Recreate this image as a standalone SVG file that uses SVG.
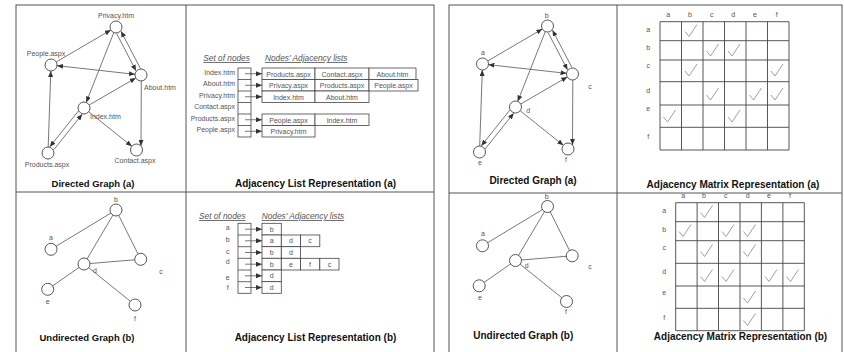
<svg xmlns="http://www.w3.org/2000/svg" xmlns:xlink="http://www.w3.org/1999/xlink" width="844" height="352" viewBox="0 0 844 352">
  <style>
    .frame { fill: none; stroke: #555; stroke-width: 1; }
    .edge { fill: none; stroke: #555; stroke-width: 0.8; }
    .arr { marker-end: url(#ah); }
    .both { marker-start: url(#ah); marker-end: url(#ah); }
    .node { fill: #fff; stroke: #444; stroke-width: 0.9; }
    .lbl { font-family: "Liberation Sans", Arial, sans-serif; font-size: 7px; fill: #555; }
    .mid { text-anchor: middle; }
    .end { text-anchor: end; }
    .ttl { font-family: "Liberation Sans", Arial, sans-serif; font-size: 9.5px; font-weight: bold; fill: #111; text-anchor: middle; }
    .big { font-size: 10px; }
    .hdr { font-family: "Liberation Sans", Arial, sans-serif; font-size: 8.3px; font-style: italic; fill: #555; text-decoration: underline; }
    .cell { fill: #fff; stroke: #444; stroke-width: 0.8; }
    .grid { fill: none; stroke: #444; stroke-width: 0.9; }
    .chk { fill: none; stroke: #888; stroke-width: 0.8; }
  </style>
  <defs>
    <marker id="ah" markerUnits="userSpaceOnUse" markerWidth="6" markerHeight="5" refX="6" refY="2.5" orient="auto-start-reverse">
      <path d="M0,0 L6,2.5 L0,5 z" fill="#333"/>
    </marker>
    <path id="chk" class="chk" d="M0,7 L4,12 L12,0"/>
  </defs>

  <rect width="844" height="352" fill="#fff"/>

  <!-- panel frames -->
  <g id="frames">
    <rect class="frame" x="16" y="5" width="418" height="360"/>
    <line class="frame" x1="186" y1="5" x2="186" y2="352"/>
    <line class="frame" x1="16" y1="192" x2="434" y2="192"/>
    <rect class="frame" x="449" y="5" width="393" height="360"/>
    <line class="frame" x1="617" y1="5" x2="617" y2="352"/>
    <line class="frame" x1="449" y1="193" x2="842" y2="193"/>
  </g>

  <!-- directed web-page graph -->
  <g id="connectors-directed-pages">
    <path class="edge arr" d="M56.18,61.97 L110.82,30.03"/>
    <path class="edge both" d="M56.96,65.66 L135.04,74.34"/>
    <path class="edge arr" d="M116.55,33.47 L136.01,70.83"/>
    <path class="edge arr" d="M140.45,68.53 L120.99,31.17"/>
    <path class="edge arr" d="M113.8,32.58 L86.2,102.42"/>
    <path class="edge arr" d="M89.19,104.99 L135.81,78.01"/>
    <path class="edge arr" d="M141.3,81 L141,146"/>
    <path class="edge arr" d="M88.69,111.75 L131.81,146.25"/>
    <path class="edge arr" d="M48.2,147 L50.8,71"/>
    <path class="edge arr" d="M78.3,111.13 L49.8,146.75"/>
    <path class="edge arr" d="M53.7,149.87 L82.2,114.25"/>
  </g>
  <g id="node-privacy"><circle class="node" cx="116" cy="27" r="6"/><text class="lbl mid" x="116" y="18">Privacy.htm</text></g>
  <g id="node-people"><circle class="node" cx="51" cy="65" r="6"/><text class="lbl mid" x="46" y="55.5">People.aspx</text></g>
  <g id="node-about"><circle class="node" cx="141" cy="75" r="6"/><text class="lbl" x="144" y="89.5">About.htm</text></g>
  <g id="node-index"><circle class="node" cx="84" cy="108" r="6"/><text class="lbl" x="90" y="118.5">Index.htm</text></g>
  <g id="node-products"><circle class="node" cx="48" cy="153" r="6"/><text class="lbl mid" x="47" y="166.5">Products.aspx</text></g>
  <g id="node-contact"><circle class="node" cx="136.5" cy="150" r="6"/><text class="lbl mid" x="135" y="163">Contact.aspx</text></g>
  <text class="ttl" x="93" y="186.5">Directed Graph (a)</text>

  <!-- adjacency list (a) -->
  <g id="list-a">
    <text class="hdr" x="203.3" y="61">Set of nodes</text>
    <text class="hdr" x="265" y="61">Nodes' Adjacency lists</text>
    <rect class="cell" x="238" y="68" width="13" height="69"/>
    <line class="cell" x1="238" y1="79.5" x2="251" y2="79.5"/>
    <line class="cell" x1="238" y1="91" x2="251" y2="91"/>
    <line class="cell" x1="238" y1="102.5" x2="251" y2="102.5"/>
    <line class="cell" x1="238" y1="114" x2="251" y2="114"/>
    <line class="cell" x1="238" y1="125.5" x2="251" y2="125.5"/>
    <text class="lbl end" x="235" y="74.7">Index.htm</text>
    <text class="lbl end" x="235" y="86.2">About.htm</text>
    <text class="lbl end" x="235" y="97.7">Privacy.htm</text>
    <text class="lbl end" x="235" y="109.2">Contact.aspx</text>
    <text class="lbl end" x="235" y="120.7">Products.aspx</text>
    <text class="lbl end" x="235" y="132.2">People.aspx</text>
    <path class="edge arr" d="M245,73.75 H262"/>
    <path class="edge arr" d="M245,85.25 H262"/>
    <path class="edge arr" d="M245,96.75 H262"/>
    <path class="edge arr" d="M245,119.75 H262"/>
    <path class="edge arr" d="M245,131.25 H262"/>
    <rect class="cell" x="262" y="68" width="53" height="11.5"/>
    <rect class="cell" x="315" y="68" width="54" height="11.5"/>
    <rect class="cell" x="369" y="68" width="47" height="11.5"/>
    <rect class="cell" x="262" y="79.5" width="53" height="11.5"/>
    <rect class="cell" x="315" y="79.5" width="54" height="11.5"/>
    <rect class="cell" x="369" y="79.5" width="49" height="11.5"/>
    <rect class="cell" x="262" y="91" width="53" height="11.5"/>
    <rect class="cell" x="315" y="91" width="54" height="11.5"/>
    <rect class="cell" x="262" y="114" width="53" height="11.5"/>
    <rect class="cell" x="315" y="114" width="54" height="11.5"/>
    <rect class="cell" x="262" y="125.5" width="53" height="11.5"/>
    <text class="lbl mid" x="288.5" y="76.5">Products.aspx</text>
    <text class="lbl mid" x="342" y="76.5">Contact.aspx</text>
    <text class="lbl mid" x="392.5" y="76.5">About.htm</text>
    <text class="lbl mid" x="288.5" y="88">Privacy.aspx</text>
    <text class="lbl mid" x="342" y="88">Products.aspx</text>
    <text class="lbl mid" x="393.5" y="88">People.aspx</text>
    <text class="lbl mid" x="288.5" y="99.5">Index.htm</text>
    <text class="lbl mid" x="342" y="99.5">About.htm</text>
    <text class="lbl mid" x="288.5" y="122.5">People.aspx</text>
    <text class="lbl mid" x="342" y="122.5">Index.htm</text>
    <text class="lbl mid" x="288.5" y="134">Privacy.htm</text>
  </g>
  <text class="ttl big" x="315.5" y="186.5">Adjacency List Representation (a)</text>

  <!-- undirected graph (left) -->
  <g id="connectors-undirected-left">
    <line class="edge" x1="51" y1="249.3" x2="116" y2="210"/>
    <line class="edge" x1="116" y1="210" x2="84" y2="264"/>
    <line class="edge" x1="116" y1="210" x2="140.7" y2="259.3"/>
    <line class="edge" x1="84" y1="264" x2="140.7" y2="259.3"/>
    <line class="edge" x1="84" y1="264" x2="47.7" y2="289.3"/>
    <line class="edge" x1="84" y1="264" x2="135" y2="305"/>
  </g>
  <g id="ub-b"><circle class="node" cx="116" cy="210" r="6"/><text class="lbl mid" x="116" y="202">b</text></g>
  <g id="ub-a"><circle class="node" cx="51" cy="249.3" r="6"/><text class="lbl mid" x="51" y="240">a</text></g>
  <g id="ub-c"><circle class="node" cx="140.7" cy="259.3" r="6"/><text class="lbl mid" x="161" y="273.5">c</text></g>
  <g id="ub-d"><circle class="node" cx="84" cy="264" r="6"/><text class="lbl mid" x="95" y="272.5">d</text></g>
  <g id="ub-e"><circle class="node" cx="47.7" cy="289.3" r="6"/><text class="lbl mid" x="47.7" y="303.5">e</text></g>
  <g id="ub-f"><circle class="node" cx="135" cy="305" r="6"/><text class="lbl mid" x="135" y="320.5">f</text></g>
  <text class="ttl" x="87" y="341">Undirected Graph (b)</text>

  <!-- adjacency list (b) -->
  <g id="list-b">
    <text class="hdr" x="199" y="219">Set of nodes</text>
    <text class="hdr" x="261.7" y="219">Nodes' Adjacency lists</text>
    <rect class="cell" x="238" y="223.3" width="13" height="70"/>
    <line class="cell" x1="238" y1="235" x2="251" y2="235"/>
    <line class="cell" x1="238" y1="246.7" x2="251" y2="246.7"/>
    <line class="cell" x1="238" y1="258.3" x2="251" y2="258.3"/>
    <line class="cell" x1="238" y1="270" x2="251" y2="270"/>
    <line class="cell" x1="238" y1="281.7" x2="251" y2="281.7"/>
    <text class="lbl mid" x="227.7" y="230.2">a</text>
    <text class="lbl mid" x="227.7" y="241.8">b</text>
    <text class="lbl mid" x="227.7" y="253.5">c</text>
    <text class="lbl mid" x="227.7" y="264">d</text>
    <text class="lbl mid" x="227.7" y="280.2">e</text>
    <text class="lbl mid" x="227.7" y="290.2">f</text>
    <path class="edge arr" d="M245,229.2 H262"/>
    <path class="edge arr" d="M245,240.8 H262"/>
    <path class="edge arr" d="M245,252.5 H262"/>
    <path class="edge arr" d="M245,264.2 H262"/>
    <path class="edge arr" d="M245,275.8 H262"/>
    <path class="edge arr" d="M245,287.5 H262"/>
    <rect class="cell" x="262" y="223.3" width="19.3" height="11.7"/>
    <rect class="cell" x="262" y="235" width="19.3" height="11.7"/>
    <rect class="cell" x="281.3" y="235" width="19.2" height="11.7"/>
    <rect class="cell" x="300.5" y="235" width="19.3" height="11.7"/>
    <rect class="cell" x="262" y="246.7" width="19.3" height="11.6"/>
    <rect class="cell" x="281.3" y="246.7" width="19.2" height="11.6"/>
    <rect class="cell" x="262" y="258.3" width="19.3" height="11.7"/>
    <rect class="cell" x="281.3" y="258.3" width="19.2" height="11.7"/>
    <rect class="cell" x="300.5" y="258.3" width="19.3" height="11.7"/>
    <rect class="cell" x="319.8" y="258.3" width="19.2" height="11.7"/>
    <rect class="cell" x="262" y="270" width="19.3" height="11.7"/>
    <rect class="cell" x="262" y="281.7" width="19.3" height="11.6"/>
    <text class="lbl mid" x="271.6" y="231.7">b</text>
    <text class="lbl mid" x="271.6" y="243.3">a</text>
    <text class="lbl mid" x="290.9" y="243.3">d</text>
    <text class="lbl mid" x="310.1" y="243.3">c</text>
    <text class="lbl mid" x="271.6" y="255">b</text>
    <text class="lbl mid" x="290.9" y="255">d</text>
    <text class="lbl mid" x="271.6" y="266.7">b</text>
    <text class="lbl mid" x="290.9" y="266.7">e</text>
    <text class="lbl mid" x="310.1" y="266.7">f</text>
    <text class="lbl mid" x="329.4" y="266.7">c</text>
    <text class="lbl mid" x="271.6" y="278.3">d</text>
    <text class="lbl mid" x="271.6" y="290">d</text>
  </g>
  <text class="ttl big" x="315.5" y="341">Adjacency List Representation (b)</text>

  <!-- directed letter graph (right), same geometry as the page graph -->
  <g transform="translate(431.5,-1)">
    <g id="connectors-directed-letters">
      <path class="edge arr" d="M56.18,61.97 L110.82,30.03"/>
      <path class="edge both" d="M56.96,65.66 L135.04,74.34"/>
      <path class="edge arr" d="M116.55,33.47 L136.01,70.83"/>
      <path class="edge arr" d="M140.45,68.53 L120.99,31.17"/>
      <path class="edge arr" d="M113.8,32.58 L86.2,102.42"/>
      <path class="edge arr" d="M89.19,104.99 L135.81,78.01"/>
      <path class="edge arr" d="M141.3,81 L141,146"/>
      <path class="edge arr" d="M88.69,111.75 L131.81,146.25"/>
      <path class="edge arr" d="M48.2,147 L50.8,71"/>
      <path class="edge arr" d="M78.3,111.13 L49.8,146.75"/>
      <path class="edge arr" d="M53.7,149.87 L82.2,114.25"/>
    </g>
    <g id="db-b"><circle class="node" cx="116" cy="27" r="6"/><text class="lbl mid" x="115.2" y="18.5">b</text></g>
    <g id="db-a"><circle class="node" cx="51" cy="65" r="6"/><text class="lbl mid" x="51.5" y="56">a</text></g>
    <g id="db-c"><circle class="node" cx="141" cy="75" r="6"/><text class="lbl mid" x="158.5" y="89.5">c</text></g>
    <g id="db-d"><circle class="node" cx="84" cy="108" r="6"/><text class="lbl mid" x="96.8" y="113.5">d</text></g>
    <g id="db-e"><circle class="node" cx="48" cy="153" r="6"/><text class="lbl mid" x="48.5" y="166">e</text></g>
    <g id="db-f"><circle class="node" cx="136.5" cy="150" r="6"/><text class="lbl mid" x="134.5" y="163">f</text></g>
  </g>
  <text class="ttl big" x="533" y="184">Directed Graph (a)</text>

  <!-- adjacency matrix (a) -->
  <g id="matrix-a">
    <g class="lbl mid">
      <text x="668.3" y="16.5">a</text><text x="690" y="16.5">b</text><text x="711.7" y="16.5">c</text>
      <text x="733.3" y="16.5">d</text><text x="755" y="16.5">e</text><text x="776.7" y="16.5">f</text>
      <text x="648.3" y="31.8">a</text><text x="648.3" y="50.2">b</text><text x="648.3" y="68.2">c</text>
      <text x="648.3" y="92.5">d</text><text x="648.3" y="110.8">e</text><text x="648.3" y="138.5">f</text>
    </g>
    <path class="grid" d="M660,21.7 H789 M660,40.7 H789 M660,60 H789 M660,81.7 H789 M660,105 H789 M660,127.3 H789 M660,150 H789
      M660,21.7 V150 M681.5,21.7 V150 M703,21.7 V150 M724.5,21.7 V150 M746,21.7 V150 M767.5,21.7 V150 M789,21.7 V150"/>
    <use xlink:href="#chk" href="#chk" x="685" y="24.5"/>
    <use xlink:href="#chk" href="#chk" x="706.5" y="44"/>
    <use xlink:href="#chk" href="#chk" x="728" y="44"/>
    <use xlink:href="#chk" href="#chk" x="685" y="64"/>
    <use xlink:href="#chk" href="#chk" x="771" y="64"/>
    <use xlink:href="#chk" href="#chk" x="706.5" y="88"/>
    <use xlink:href="#chk" href="#chk" x="749.5" y="88"/>
    <use xlink:href="#chk" href="#chk" x="771" y="88"/>
    <use xlink:href="#chk" href="#chk" x="663.5" y="110"/>
    <use xlink:href="#chk" href="#chk" x="728" y="110"/>
  </g>
  <text class="ttl big" x="733" y="187.5">Adjacency Matrix Representation (a)</text>

  <!-- undirected graph (right) -->
  <g transform="translate(431.5,-3.5)">
    <g id="connectors-undirected-right">
      <line class="edge" x1="51" y1="249.3" x2="116" y2="210"/>
      <line class="edge" x1="116" y1="210" x2="84" y2="264"/>
      <line class="edge" x1="116" y1="210" x2="140.7" y2="259.3"/>
      <line class="edge" x1="84" y1="264" x2="140.7" y2="259.3"/>
      <line class="edge" x1="84" y1="264" x2="47.7" y2="289.3"/>
      <line class="edge" x1="84" y1="264" x2="135" y2="305"/>
    </g>
    <g id="ur-b"><circle class="node" cx="116" cy="210" r="6"/><text class="lbl mid" x="115.2" y="202.5">b</text></g>
    <g id="ur-a"><circle class="node" cx="51" cy="249.3" r="6"/><text class="lbl mid" x="51.5" y="239.5">a</text></g>
    <g id="ur-c"><circle class="node" cx="140.7" cy="259.3" r="6"/><text class="lbl mid" x="158.5" y="272">c</text></g>
    <g id="ur-d"><circle class="node" cx="84" cy="264" r="6"/><text class="lbl mid" x="95.2" y="271">d</text></g>
    <g id="ur-e"><circle class="node" cx="47.7" cy="289.3" r="6"/><text class="lbl mid" x="48.5" y="303.5">e</text></g>
    <g id="ur-f"><circle class="node" cx="135" cy="305" r="6"/><text class="lbl mid" x="134.5" y="317.5">f</text></g>
  </g>
  <text class="ttl big" x="523.3" y="338.5">Undirected Graph (b)</text>

  <!-- adjacency matrix (b) -->
  <g id="matrix-b">
    <g class="lbl mid">
      <text x="683.3" y="197.5">a</text><text x="704" y="197.5">b</text><text x="725.7" y="197.5">c</text>
      <text x="747.7" y="197.5">d</text><text x="769" y="197.5">e</text><text x="790" y="197.5">f</text>
      <text x="664.3" y="213.2">a</text><text x="664.3" y="231.5">b</text><text x="664.3" y="249.8">c</text>
      <text x="664.3" y="274.2">d</text><text x="664.3" y="295.2">e</text><text x="664.3" y="320.2">f</text>
    </g>
    <path class="grid" d="M675.7,202.7 H804.3 M675.7,221.7 H804.3 M675.7,240.7 H804.3 M675.7,263.3 H804.3 M675.7,286 H804.3 M675.7,308.3 H804.3 M675.7,330.7 H804.3
      M675.7,202.7 V330.7 M697.1,202.7 V330.7 M718.5,202.7 V330.7 M740,202.7 V330.7 M761.4,202.7 V330.7 M782.9,202.7 V330.7 M804.3,202.7 V330.7"/>
    <use xlink:href="#chk" href="#chk" x="700.5" y="205.5"/>
    <use xlink:href="#chk" href="#chk" x="679" y="224.5"/>
    <use xlink:href="#chk" href="#chk" x="722" y="224.5"/>
    <use xlink:href="#chk" href="#chk" x="743.5" y="224.5"/>
    <use xlink:href="#chk" href="#chk" x="700.5" y="244.5"/>
    <use xlink:href="#chk" href="#chk" x="743.5" y="244.5"/>
    <use xlink:href="#chk" href="#chk" x="700.5" y="269.5"/>
    <use xlink:href="#chk" href="#chk" x="722" y="269.5"/>
    <use xlink:href="#chk" href="#chk" x="765" y="269.5"/>
    <use xlink:href="#chk" href="#chk" x="786.5" y="269.5"/>
    <use xlink:href="#chk" href="#chk" x="743.5" y="291"/>
    <use xlink:href="#chk" href="#chk" x="743.5" y="313.5"/>
  </g>
  <text class="ttl big" x="740.5" y="340">Adjacency Matrix Representation (b)</text>
</svg>
